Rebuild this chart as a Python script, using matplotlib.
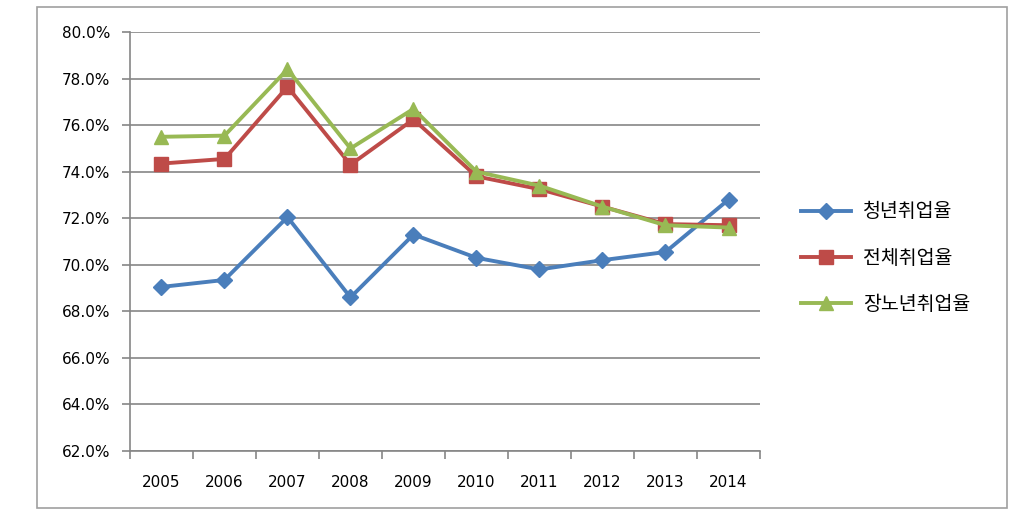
import numpy as np
import matplotlib
matplotlib.use('Agg')
import matplotlib.pyplot as plt
from matplotlib.patches import Rectangle
from matplotlib.ticker import FuncFormatter

plt.rcParams['font.family'] = ['DejaVu Sans', 'Noto Sans CJK KR']

years = ['2005', '2006', '2007', '2008', '2009', '2010', '2011', '2012', '2013', '2014']
youth = [69.05, 69.35, 72.05, 68.6, 71.3, 70.3, 69.8, 70.2, 70.55, 72.8]
total = [74.35, 74.55, 77.65, 74.3, 76.25, 73.8, 73.25, 72.5, 71.75, 71.7]
senior = [75.5, 75.55, 78.4, 75.0, 76.7, 74.0, 73.4, 72.5, 71.7, 71.6]
names = ['청년취업율', '전체취업율', '장노년취업율']

fig = plt.figure(figsize=(10.17, 5.29), dpi=100)
ax = fig.add_axes([0.1278, 0.1474, 0.6195, 0.792])

# outer chart border
fig.patches.append(Rectangle((0.0364, 0.0397), 0.9538, 0.947, transform=fig.transFigure,
                             fill=False, edgecolor='#a0a0a0', linewidth=1.2))

x = np.arange(len(years))
ax.plot(x, youth, color='#4A7EBB', lw=2.8, marker='D', ms=8.5, label=names[0], zorder=3)
ax.plot(x, total, color='#BE4B48', lw=2.8, marker='s', ms=9.5, label=names[1], zorder=4)
ax.plot(x, senior, color='#98B954', lw=2.8, marker='^', ms=10.5, label=names[2], zorder=5)

ax.set_xlim(-0.5, 9.5)
ax.set_ylim(62, 80)
ax.set_yticks(np.arange(62, 80.1, 2))
ax.yaxis.set_major_formatter(FuncFormatter(lambda v, p: '%.1f%%' % v))
ax.grid(axis='y', color='#868686', lw=1.2)
ax.set_axisbelow(True)

ax.set_xticks(x)
ax.set_xticklabels(years)
ax.set_xticks(np.arange(-0.5, 9.6, 1), minor=True)
ax.tick_params(axis='x', which='major', length=0, pad=17, labelsize=11)
ax.tick_params(axis='x', which='minor', length=6, color='#868686', width=1.2)
ax.tick_params(axis='y', length=6, color='#868686', width=1.2, pad=8, labelsize=11)

for s in ['top', 'right']:
    ax.spines[s].set_visible(False)
for s in ['left', 'bottom']:
    ax.spines[s].set_color('#868686')
    ax.spines[s].set_linewidth(1.2)

leg = ax.legend(loc='center left', bbox_to_anchor=(0.77, 0.512), bbox_transform=fig.transFigure,
                frameon=False, handlelength=2.6, labelspacing=1.3, handletextpad=0.6,
                prop={'family': ['Noto Sans CJK KR', 'DejaVu Sans'], 'size': 14})

fig.savefig('out.png', dpi=100)
